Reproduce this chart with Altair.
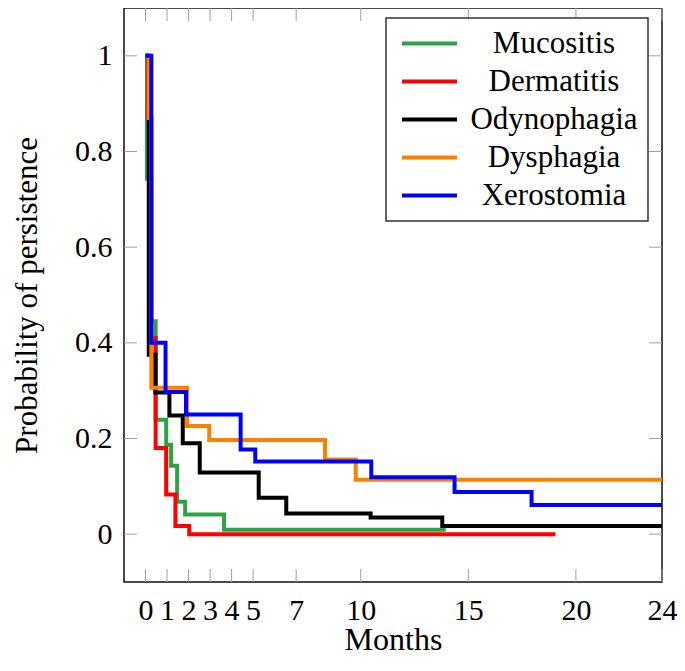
import altair as alt
import pandas as pd

FONT = "Liberation Serif"

series_names = ["Mucositis", "Dermatitis", "Odynophagia", "Dysphagia", "Xerostomia"]
series_colors = ["#2ca444", "#ff0000", "#000000", "#ff8000", "#0000ff"]

# Kaplan-Meier step curves (time in months, probability of persistence)
muc_t = [0, 0.07, 0.27, 0.47, 0.96, 1.19, 1.47, 1.84, 3.65, 13.95]
muc_s = [1, 0.743, 0.445, 0.239, 0.187, 0.143, 0.068, 0.041, 0.009, 0.009]

der_t = [0, 0.10, 0.27, 0.47, 0.96, 1.39, 2.03, 19.05]
der_s = [1, 0.87, 0.41, 0.18, 0.083, 0.017, 0.0, 0.0]

ody_t = [0, 0.15, 0.46, 1.11, 1.73, 2.52, 5.26, 6.54, 10.46, 13.79, 24]
ody_s = [1, 0.375, 0.296, 0.248, 0.19, 0.129, 0.076, 0.043, 0.035, 0.017, 0.017]

dys_t = [0, 0.14, 0.27, 1.93, 2.96, 8.34, 9.77, 24]
dys_s = [1, 0.87, 0.306, 0.226, 0.197, 0.156, 0.114, 0.114]

xer_t = [0, 0.27, 0.93, 1.88, 4.42, 5.1, 10.49, 14.36, 17.94, 24]
xer_s = [1, 0.40, 0.297, 0.25, 0.177, 0.152, 0.119, 0.088, 0.061, 0.061]

x_ticks = [0, 1, 2, 3, 4, 5, 7, 10, 15, 20, 24]
y_ticks = [0, 0.2, 0.4, 0.6, 0.8, 1]

x_domain = [-1, 24]
y_domain = [-0.1, 1.1]

W, H = 538, 574
TICK_LEN = 13
TICK_COLOR = "#a0a0a0"

rows = []
for name, ts, ss in zip(series_names,
                        [muc_t, der_t, ody_t, dys_t, xer_t],
                        [muc_s, der_s, ody_s, dys_s, xer_s]):
    for i, (t, s) in enumerate(zip(ts, ss)):
        rows.append({"series": name, "t": t, "s": s, "i": i})
df = pd.DataFrame(rows)

xs = alt.Scale(domain=x_domain, nice=False, zero=False)
ys = alt.Scale(domain=y_domain, nice=False, zero=False)

x_axis = alt.Axis(values=x_ticks, title="Months", ticks=False, domain=False,
                  grid=False, labelOverlap=False, labelFlush=False,
                  labelPadding=13, labelFontSize=30, labelFont=FONT,
                  labelColor="black", titleFont=FONT, titleFontSize=32,
                  titleFontWeight="normal", titleColor="black",
                  titleBaseline="alphabetic", titleX=W / 2, titleY=67)
y_axis = alt.Axis(values=y_ticks, format="~g", title="Probability of persistence",
                  ticks=False, domain=False, grid=False, labelPadding=12,
                  labelFontSize=30, labelFont=FONT, labelColor="black",
                  titleFont=FONT, titleFontSize=31, titleFontWeight="normal",
                  titleColor="black", titleBaseline="alphabetic",
                  titleAngle=270, titleX=-88, titleY=H / 2)

layers = []
for k, name in enumerate(series_names):
    layer = alt.Chart(df).transform_filter(
        alt.datum.series == name
    ).mark_line(interpolate="step-after", strokeWidth=4, clip=True).encode(
        x=alt.X("t:Q", scale=xs, axis=x_axis, title="Months"),
        y=alt.Y("s:Q", scale=ys, axis=y_axis, title="Probability of persistence"),
        color=alt.Color("series:N",
                        scale=alt.Scale(domain=series_names, range=series_colors),
                        legend=alt.Legend(title=None, orient="none", legendX=262, legendY=10,
                                          symbolType="M-2.5,0H2.5", symbolSize=484,
                                          symbolStrokeWidth=4, symbolOffset=18,
                                          labelFont=FONT, labelFontSize=31, labelColor="black",
                                          labelAlign="center", labelOffset=109, labelLimit=400,
                                          padding=10, rowPadding=6,
                                          strokeColor="#333333",
                                          fillColor="white")),
        order="i:Q",
    )
    layers.append(layer)

xt_df = pd.DataFrame({"t": x_ticks})
yt_df = pd.DataFrame({"s": y_ticks})

tick_bottom = alt.Chart(xt_df).mark_rule(color=TICK_COLOR, strokeWidth=1).encode(
    x=alt.X("t:Q", scale=xs, axis=x_axis, title="Months"),
    y=alt.value(H), y2=alt.value(H - TICK_LEN))
tick_top = alt.Chart(xt_df).mark_rule(color=TICK_COLOR, strokeWidth=1).encode(
    x=alt.X("t:Q", scale=xs, axis=x_axis, title="Months"),
    y=alt.value(0), y2=alt.value(TICK_LEN))
tick_left = alt.Chart(yt_df).mark_rule(color=TICK_COLOR, strokeWidth=1).encode(
    y=alt.Y("s:Q", scale=ys, axis=y_axis, title="Probability of persistence"),
    x=alt.value(0), x2=alt.value(TICK_LEN))
tick_right = alt.Chart(yt_df).mark_rule(color=TICK_COLOR, strokeWidth=1).encode(
    y=alt.Y("s:Q", scale=ys, axis=y_axis, title="Probability of persistence"),
    x=alt.value(W - TICK_LEN), x2=alt.value(W))

chart = alt.layer(tick_bottom, tick_top, tick_left, tick_right, *layers).properties(
    width=W, height=H,
    padding={"left": 116, "top": 0, "right": 15, "bottom": 76},
    autosize=alt.AutoSizeParams(type="none"),
).configure(background="white"
).configure_view(stroke="#111111", strokeWidth=1.5
).configure_legend(strokeWidth=1.5)

chart.save("out.html", embed_options={"renderer": "svg", "actions": False})
